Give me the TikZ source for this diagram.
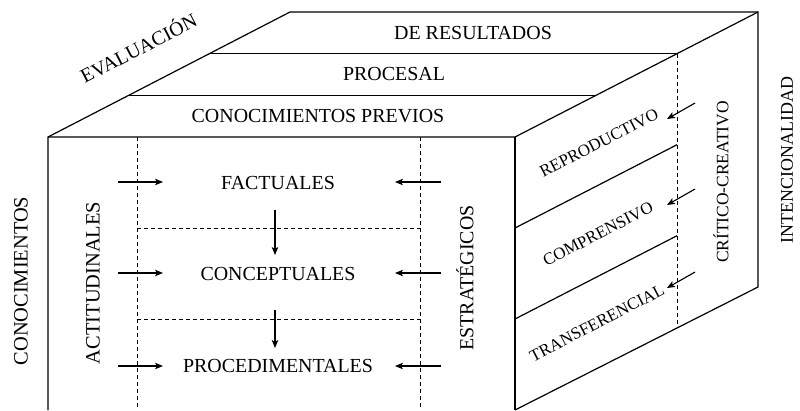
\documentclass[tikz,border=0pt]{standalone}
\usepackage{fontspec}
\setmainfont{Liberation Serif}
\usetikzlibrary{arrows.meta,calc}
\begin{document}
\begin{tikzpicture}[x=1bp,y=-1bp,
  edge/.style={line width=1.2bp, line join=miter},
  dsh/.style={dash pattern=on 4bp off 3bp, line width=0.8bp},
  arr/.style={line width=1.1bp,-{Stealth[length=8bp,width=6.5bp,inset=2bp]}},
  big/.style={inner sep=0pt,font=\fontsize{20}{22}\selectfont},
  side/.style={inner sep=0pt,font=\fontsize{20.5}{22}\selectfont,rotate=90},
  topl/.style={inner sep=0pt,font=\fontsize{20}{22}\selectfont},
  face/.style={inner sep=0pt,font=\fontsize{17}{19}\selectfont,rotate=27.3}]
\useasboundingbox (0,0) rectangle (800,410);
% cube corners
\coordinate (ftl) at (48,137);
\coordinate (ftr) at (515,137);
\coordinate (btl) at (290,12);
\coordinate (btr) at (758,12);
\coordinate (brb) at (758,287);
\coordinate (frb) at (515,410);
\coordinate (flb) at (48,410);
% outline
\draw[edge] (flb) -- (ftl) -- (btl) -- (btr) -- (brb) -- (frb);
\draw[edge] (ftl) -- (ftr) -- (btr);
\draw[edge] (ftr) -- (frb);
% top face dividers
\draw[edge] ($(ftl)!1/3!(btl)$) -- ($(ftr)!1/3!(btr)$);
\draw[edge] ($(ftl)!2/3!(btl)$) -- ($(ftr)!2/3!(btr)$);
% right face
\coordinate (rd1) at (515,228);
\coordinate (rd2) at (515,319);
\coordinate (dtop) at ($(ftr)!2/3!(btr)$);
\coordinate (dbot) at ($(frb)!2/3!(brb)$);
\draw[dsh] (dtop) -- (dbot);
\coordinate (rd1e) at ($(rd1)+(162,-83.3)$);
\coordinate (rd2e) at ($(rd2)+(162,-83.3)$);
\draw[edge] (rd1) -- (rd1e);
\draw[edge] (rd2) -- (rd2e);
% front face dashed lines
\coordinate (dl1) at (137,137);
\coordinate (dl2) at (137,410);
\coordinate (dr1) at (420,137);
\coordinate (dr2) at (420,410);
\draw[dsh] (dl1) -- (dl2);
\draw[dsh] (dr1) -- (dr2);
\coordinate (h1a) at (137,228);
\coordinate (h1b) at (420,228);
\coordinate (h2a) at (137,319);
\coordinate (h2b) at (420,319);
\draw[dsh] (h1a) -- (h1b);
\draw[dsh] (h2a) -- (h2b);
% top labels
\node[face,font=\fontsize{20}{22}\selectfont] (eval) at (138,47) {EVALUACIÓN};
\node[topl] (res) at (473,33) {DE RESULTADOS};
\node[topl] (proc) at (394,74) {PROCESAL};
\node[topl] (prev) at (318,116) {CONOCIMIENTOS PREVIOS};
% front labels
\node[big] (fac) at (278,183) {FACTUALES};
\node[big] (con) at (278,274) {CONCEPTUALES};
\node[big] (pro) at (278,366) {PROCEDIMENTALES};
\node[side] (cono) at (21,281) {CONOCIMIENTOS};
\node[side] (acti) at (93,283) {ACTITUDINALES};
\node[side,font=\fontsize{20}{22}\selectfont] (estr) at (465,278) {ESTRATÉGICOS};
\node[side,font=\fontsize{17.5}{19}\selectfont] (crit) at (721,182) {CRÍTICO-CREATIVO};
\node[side,font=\fontsize{18}{20}\selectfont] (inte) at (787,160) {INTENCIONALIDAD};
% right face labels
\node[face] (repr) at (599,143) {REPRODUCTIVO};
\node[face] (comp) at (598,234) {COMPRENSIVO};
\node[face] (tran) at (597,323) {TRANSFERENCIAL};
% arrows left and right
\foreach \y/\n in {182/1,273/2,366/3}{
  \coordinate (L\n) at (118,\y); \coordinate (Lt\n) at (163,\y);
  \draw[arr] (L\n) -- (Lt\n);
  \coordinate (R\n) at (441,\y); \coordinate (Rt\n) at (395,\y);
  \draw[arr] (R\n) -- (Rt\n);
}
% down arrows
\coordinate (d1s) at (275,210); \coordinate (d1e) at (275,255);
\coordinate (d2s) at (275,310); \coordinate (d2e) at (275,348);
\draw[arr] (d1s) -- (d1e);
\draw[arr] (d2s) -- (d2e);
% right face arrows
\foreach \y/\n in {103/1,189/2,272/3}{
  \coordinate (S\n) at (695,\y); \coordinate (St\n) at (667,\y+16);
  \draw[arr] (S\n) -- (St\n);
}
\end{tikzpicture}
\end{document}
